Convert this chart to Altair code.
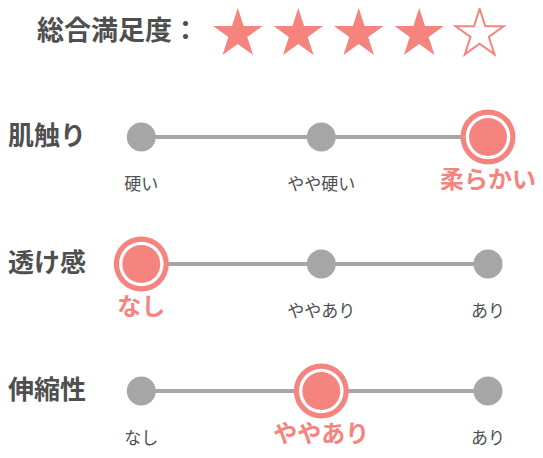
import altair as alt
import pandas as pd

# ---- data ----
title_text = "総合満足度："
rating = 4
max_rating = 5
rows = ["肌触り", "透け感", "伸縮性"]
options = [
    ["硬い", "やや硬い", "柔らかい"],
    ["なし", "ややあり", "あり"],
    ["なし", "ややあり", "あり"],
]
selected = [2, 0, 1]

# ---- styles ----
SALMON = "#F5847F"
GRAY = "#A6A6A6"
TEXT = "#4F4F4F"
FONT = "Noto Sans CJK JP"
STAR = ("M0,-1L0.2245,-0.309L0.9511,-0.309L0.3633,0.118L0.5878,0.809L0,0.382"
        "L-0.5878,0.809L-0.3633,0.118L-0.9511,-0.309L-0.2245,-0.309Z")

W = 527
H = 442

# ---- header (stars) ----
stars = pd.DataFrame({"idx": list(range(1, max_rating + 1))})
stars["filled"] = stars["idx"] <= rating
stars["band"] = "h"
title_df = pd.DataFrame({"t": [title_text], "band": ["h"]})

xh = alt.X("idx:Q", scale=alt.Scale(domain=[-2.8017, 5.9157], nice=False, zero=False), axis=None)
yh = alt.Y("band:N", scale=alt.Scale(range=[0, 52]), axis=None)

star_fill = alt.Chart(stars).transform_filter("datum.filled").mark_point(
    shape=STAR, size=2704, filled=True, color=SALMON, opacity=1, strokeWidth=0
).encode(x=xh, y=yh)
star_empty = alt.Chart(stars).transform_filter("!datum.filled").mark_point(
    shape=STAR, size=2550, filled=False, stroke=SALMON, fill="white", fillOpacity=1,
    strokeWidth=2, opacity=1
).encode(x=xh, y=yh)
title_txt = alt.Chart(title_df).mark_text(
    align="left", baseline="middle", font=FONT, fontSize=27, fontWeight="bold",
    color=TEXT, dy=-2
).encode(x=alt.value(29), y=yh, text="t:N")

# ---- body (sliders) ----
recs = []
for r, (name, opts, sel) in enumerate(zip(rows, options, selected)):
    for i, o in enumerate(opts):
        recs.append({"row": r, "name": name, "opt": i, "label": o, "sel": i == sel})
df = pd.DataFrame(recs)
lines = pd.DataFrame({
    "row": list(range(len(rows))),
    "start": [0] * len(rows),
    "end": [len(o) - 1 for o in options],
    "name": rows,
})

xs = alt.Scale(domain=[0, 1, 2], range=[133.3, 313.3, 480], nice=False, zero=False)
ys = alt.Scale(domain=[-1.0157, 2.4646], reverse=True, nice=False, zero=False)
xb = alt.X("opt:Q", scale=xs, axis=None)
yb = alt.Y("row:Q", scale=ys, axis=None)

rule = alt.Chart(lines).mark_rule(color=GRAY, strokeWidth=4).encode(
    x=alt.X("start:Q", scale=xs, axis=None), x2="end:Q", y=yb
)
dots = alt.Chart(df).transform_filter("!datum.sel").mark_circle(
    size=841, color=GRAY, opacity=1
).encode(x=xb, y=yb)
sel_base = alt.Chart(df).transform_filter("datum.sel")
sel_outer = sel_base.mark_circle(size=3025, color=SALMON, opacity=1).encode(x=xb, y=yb)
sel_ring = sel_base.mark_circle(size=1990, color="white", opacity=1).encode(x=xb, y=yb)
sel_inner = sel_base.mark_circle(size=1444, color=SALMON, opacity=1).encode(x=xb, y=yb)

lab = alt.Chart(df).transform_filter("!datum.sel").mark_text(
    baseline="middle", font=FONT, fontSize=17, color=TEXT, dy=48
).encode(x=xb, y=yb, text="label:N")
lab_sel = alt.Chart(df).transform_filter("datum.sel").mark_text(
    baseline="middle", font=FONT, fontSize=24, fontWeight="bold", color=SALMON, dy=44
).encode(x=xb, y=yb, text="label:N")

row_names = alt.Chart(lines).mark_text(
    align="left", baseline="middle", font=FONT, fontSize=26, fontWeight="bold", color=TEXT
).encode(x=alt.value(0), y=yb, text="name:N")

chart = alt.layer(
    star_fill, star_empty, title_txt,
    rule, dots, sel_outer, sel_ring, sel_inner, lab, lab_sel, row_names
).resolve_scale(x="independent", y="independent").properties(
    width=W, height=H, padding=0, autosize=alt.AutoSizeParams(type="none")
).configure_view(stroke=None)

chart.save("out.html", embed_options={"renderer": "svg", "actions": False})
